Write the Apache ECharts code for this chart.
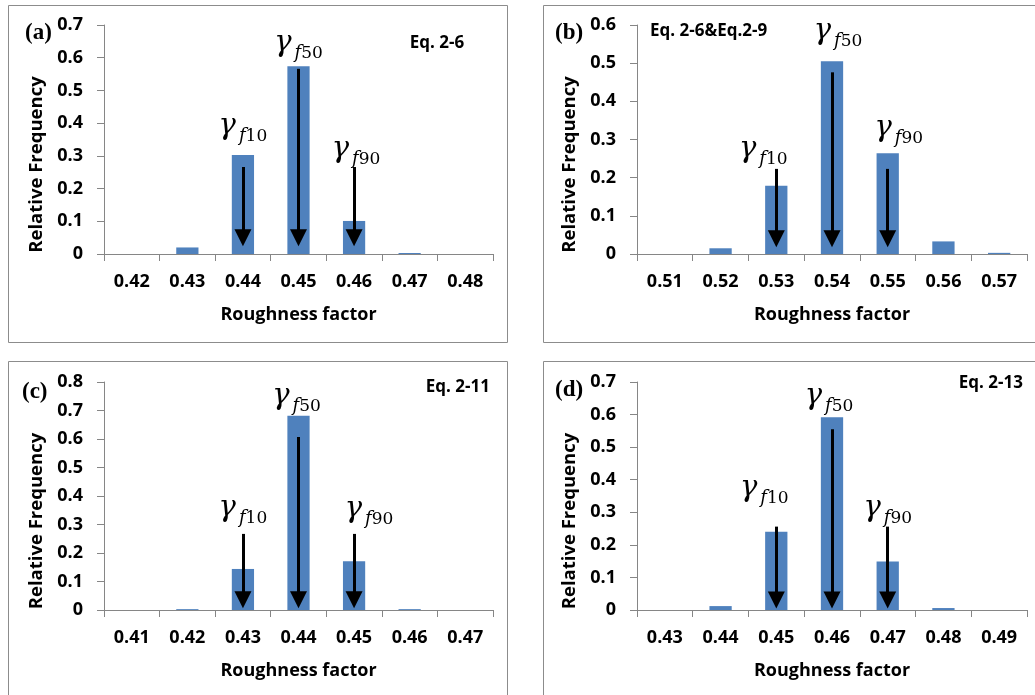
<!DOCTYPE html>
<html>
<head>
<meta charset="utf-8">
<script src="https://cdn.jsdelivr.net/npm/echarts@6/dist/echarts.min.js"></script>
<style>
  html, body { margin: 0; padding: 0; background: #fff; }
  #chart { width: 1035px; height: 695px; }
</style>
</head>
<body>
<div id="chart"></div>
<script>
// Roughness-factor histograms for four formulations
const catsA = ['0.42', '0.43', '0.44', '0.45', '0.46', '0.47', '0.48'];
const catsB = ['0.51', '0.52', '0.53', '0.54', '0.55', '0.56', '0.57'];
const catsC = ['0.41', '0.42', '0.43', '0.44', '0.45', '0.46', '0.47'];
const catsD = ['0.43', '0.44', '0.45', '0.46', '0.47', '0.48', '0.49'];

const freqA = [0, 0.020, 0.303, 0.574, 0.101, 0.003, 0];
const freqB = [0, 0.015, 0.179, 0.505, 0.264, 0.033, 0.003];
const freqC = [0, 0.003, 0.144, 0.682, 0.171, 0.003, 0];
const freqD = [0, 0.012, 0.240, 0.592, 0.149, 0.006, 0];

const yMaxA = 0.7, yMaxB = 0.6, yMaxC = 0.8, yMaxD = 0.7;

// percentile markers: category of γf10, γf50, γf90
const pctCatsA = ['0.44', '0.45', '0.46'];
const pctCatsB = ['0.53', '0.54', '0.55'];
const pctCatsC = ['0.43', '0.44', '0.45'];
const pctCatsD = ['0.45', '0.46', '0.47'];
const pctNames = ['f10', 'f50', 'f90'];

// arrow start / end heights (in frequency units)
const arrowTopA = [0.266, 0.566, 0.266], arrowEndA = 0.05;
const arrowTopB = [0.223, 0.476, 0.223], arrowEndB = 0.04;
const arrowTopC = [0.267, 0.607, 0.267], arrowEndC = 0.036;
const arrowTopD = [0.256, 0.555, 0.256], arrowEndD = 0.031;

// heights of the γ labels (in frequency units)
const labelYA = [0.379, 0.633, 0.309];
const labelYB = [0.264, 0.573, 0.319];
const labelYC = [0.344, 0.737, 0.340];
const labelYD = [0.362, 0.644, 0.301];

const panelTags = ['(a)', '(b)', '(c)', '(d)'];
const eqTexts = ['Eq. 2-6', 'Eq. 2-6&Eq.2-9', 'Eq. 2-11', 'Eq. 2-13'];

const panels = [
  { cats: catsA, freq: freqA, yMax: yMaxA, pct: pctCatsA, top: arrowTopA, end: arrowEndA, ly: labelYA,
    grid: { left: 104, top: 25, width: 389, height: 229 }, dx: [0, 0, 2] },
  { cats: catsB, freq: freqB, yMax: yMaxB, pct: pctCatsB, top: arrowTopB, end: arrowEndB, ly: labelYB,
    grid: { left: 637, top: 25, width: 390, height: 229 }, dx: [-13, 6, 11] },
  { cats: catsC, freq: freqC, yMax: yMaxC, pct: pctCatsC, top: arrowTopC, end: arrowEndC, ly: labelYC,
    grid: { left: 104, top: 382, width: 389, height: 228 }, dx: [0, -2, 15] },
  { cats: catsD, freq: freqD, yMax: yMaxD, pct: pctCatsD, top: arrowTopD, end: arrowEndD, ly: labelYD,
    grid: { left: 637, top: 382, width: 390, height: 228 }, dx: [-12, -3, 0] }
];

const SANS = '"Open Sans", Lato, sans-serif';
const SERIF = '"DejaVu Serif", "Liberation Serif", serif';
const TAGSERIF = '"Liberation Serif", serif';
const AXIS_GRAY = '#868686';
const BAR_BLUE = '#4F81BD';

// γ with a lowered italic-f / digit subscript
const gammaRich = {
  g: { fontFamily: SERIF, fontStyle: 'italic', fontSize: 29, lineHeight: 28, color: '#000', padding: [0, 3, 9, 0] },
  f: { fontFamily: SERIF, fontStyle: 'italic', fontSize: 18, lineHeight: 18, color: '#000', verticalAlign: 'bottom' },
  n: { fontFamily: SERIF, fontSize: 17, lineHeight: 18, color: '#000', verticalAlign: 'bottom' }
};

const grids = [], xAxes = [], yAxes = [], series = [];
panels.forEach((p, i) => {
  grids.push(Object.assign({ containLabel: false }, p.grid));
  xAxes.push({
    type: 'category', gridIndex: i, data: p.cats,
    axisLine: { lineStyle: { color: AXIS_GRAY, width: 1 } },
    axisTick: { show: true, length: 7, lineStyle: { color: AXIS_GRAY } },
    axisLabel: { color: '#000', fontFamily: SANS, fontWeight: 'bold', fontSize: 18, margin: 19 },
    name: 'Roughness factor', nameLocation: 'middle', nameGap: 52,
    nameTextStyle: { color: '#000', fontFamily: SANS, fontWeight: 'bold', fontSize: 18 }
  });
  yAxes.push({
    type: 'value', gridIndex: i, min: 0, max: p.yMax, interval: 0.1,
    axisLine: { show: true, lineStyle: { color: AXIS_GRAY, width: 1 } },
    axisTick: { show: true, length: 7, lineStyle: { color: AXIS_GRAY } },
    splitLine: { show: false },
    axisLabel: { color: '#000', fontFamily: SANS, fontWeight: 'bold', fontSize: 18, margin: 21,
      formatter: v => (v === 0 ? '0' : v.toFixed(1)) },
    name: 'Relative Frequency', nameLocation: 'middle', nameRotate: 90, nameGap: 58,
    nameTextStyle: { color: '#000', fontFamily: SANS, fontWeight: 'bold', fontSize: 18.5, padding: [0, 50, 0, 0] }
  });
  series.push({
    type: 'bar', xAxisIndex: i, yAxisIndex: i, data: p.freq, barWidth: '40%',
    itemStyle: { color: BAR_BLUE }, silent: true,
    markLine: {
      silent: true, animation: false,
      symbol: ['none', 'triangle'], symbolSize: 17,
      lineStyle: { color: '#000', width: 3, type: 'solid' },
      itemStyle: { color: '#000' },
      label: { show: false },
      data: p.pct.map((c, k) => [{ coord: [c, p.top[k]] }, { coord: [c, p.end] }])
    },
    markPoint: {
      silent: true, animation: false,
      data: p.pct.map((c, k) => ({
        coord: [c, p.ly[k]], symbol: 'rect', symbolSize: 1,
        itemStyle: { color: 'rgba(0,0,0,0)' },
        label: {
          show: true, position: 'inside', offset: [p.dx[k], 1],
          formatter: '{g|γ}{f|' + pctNames[k].charAt(0) + '}{n|' + pctNames[k].slice(1) + '}',
          rich: gammaRich
        }
      }))
    }
  });
});

// panel frames, tags and equation captions
const frames = [
  { x: 8.5, y: 5.5, w: 499, h: 337 },
  { x: 543.5, y: 5.5, w: 520, h: 337 },
  { x: 8.5, y: 361.5, w: 499, h: 360 },
  { x: 543.5, y: 361.5, w: 520, h: 360 }
];
const tagPos = [[25, 33], [555, 33], [22, 392], [555, 390]];
const eqPos = [[437, 43, 'center'], [650, 31, 'left'], [490, 387, 'right'], [1023, 383, 'right']];

const graphic = [];
frames.forEach(f => graphic.push({
  type: 'rect', silent: true, z: -1,
  shape: { x: f.x, y: f.y, width: f.w, height: f.h },
  style: { fill: 'none', stroke: '#8c8c8c', lineWidth: 1 }
}));
tagPos.forEach((t, i) => graphic.push({
  type: 'text', silent: true, x: t[0], y: t[1],
  style: { text: panelTags[i], font: 'bold 23px ' + TAGSERIF, fill: '#000', textVerticalAlign: 'middle' }
}));
eqPos.forEach((t, i) => graphic.push({
  type: 'text', silent: true, x: t[0], y: t[1],
  style: { text: eqTexts[i], font: 'bold 17px ' + SANS, fill: '#000', textAlign: t[2], textVerticalAlign: 'middle' }
}));

const chart = echarts.init(document.getElementById('chart'), null, { renderer: 'canvas' });
chart.setOption({
  animation: false,
  backgroundColor: '#fff',
  grid: grids, xAxis: xAxes, yAxis: yAxes, series: series,
  graphic: graphic
});
</script>
</body>
</html>
